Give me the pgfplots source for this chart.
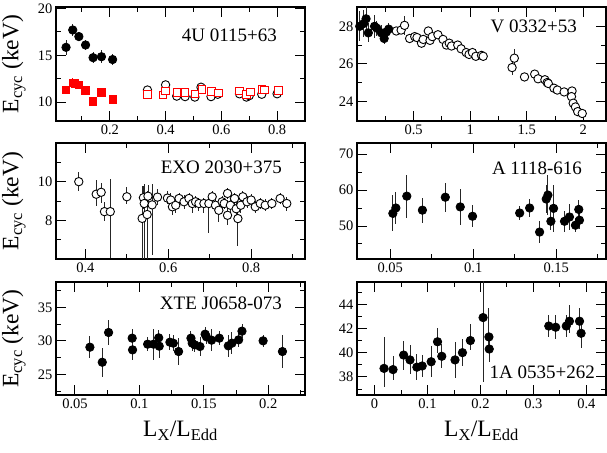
\documentclass[border=0pt]{standalone}
\usepackage{pgfplots}
\pgfplotsset{compat=1.18}
\usepackage{fontspec}
\setmainfont{Liberation Serif}

\tikzset{ttl/.style={anchor=east, inner sep=0pt, font=\fontsize{19}{21}\selectfont}}
\pgfplotsset{
  panel/.style={
    scale only axis, width=249pt, anchor=south west,
    axis line style={line width=1.2pt},
    every tick/.style={black, line width=0.9pt},
    major tick length=10pt, minor tick length=5pt,
    tick label style={font=\fontsize{14.5}{16}\selectfont},
    /pgf/number format/assume math mode=true,
    scaled ticks=false,
    /pgf/number format/fixed, /pgf/number format/precision=3,
    label style={font=\fontsize{23.5}{26}\selectfont},
    ylabel style={at={(axis description cs:-0.169,0.5)}, anchor=center},
    xlabel style={at={(axis description cs:0.5,-0.32)}, anchor=center},
  },
  fc/.style={only marks, mark=*, mark size=4.2pt,
    mark options={draw=black, fill=black, line width=0.8pt},
    error bars/.cd, y dir=both, y explicit, error mark=none,
    error bar style={black!85, line width=0.9pt}},
  oc/.style={only marks, mark=*, mark size=4.2pt,
    mark options={draw=black, fill=white, line width=0.9pt},
    error bars/.cd, y dir=both, y explicit, error mark=none,
    error bar style={black!85, line width=0.9pt}},
  rs/.style={only marks, mark=square*, mark size=3.7pt,
    mark options={draw=red, fill=red, line width=0.8pt},
    error bars/.cd, y dir=both, y explicit, error mark=none,
    error bar style={red, line width=0.9pt}},
  ros/.style={only marks, mark=square*, mark size=3.7pt,
    mark options={draw=red, fill=white, line width=0.9pt},
    error bars/.cd, y dir=both, y explicit, error mark=none,
    error bar style={red, line width=0.9pt}},
}

\begin{document}
\begin{tikzpicture}
\useasboundingbox (0pt,0pt) rectangle (607pt,452pt);

% ---------- 4U 0115+63 ----------
\begin{axis}[panel, at={(56pt,331pt)}, height=114pt,
  xmin=0.007, xmax=0.9, ymin=8, ymax=20.15,
  xtick={0.2,0.4,0.6,0.8}, minor xtick={0.1,0.3,0.5,0.7,0.9},
  ytick={10,15,20}, minor ytick={12.5,17.5},
  ylabel={E\textsubscript{cyc} (keV)}]
\addplot[fc] table[x=x,y=y,y error=e]{
x y e
0.043 15.85 0.8
0.067 17.7 0.6
0.089 17.0 0.5
0.113 16.1 0.5
0.140 14.75 0.6
0.170 14.85 0.7
0.210 14.55 0.6
};
\addplot[rs] table[x=x,y=y,y error=e]{
x y e
0.043 11.3 0.3
0.067 12.05 0.5
0.075 12.0 0.4
0.089 11.85 0.4
0.113 11.25 0.4
0.140 10.1 0.2
0.170 11.05 0.3
0.210 10.3 0.2
};
\addplot[oc] table[x=x,y=y,y error=e]{
x y e
0.335 11.3 0.2
0.40 11.85 0.2
0.44 10.65 0.2
0.47 10.6 0.2
0.505 10.55 0.2
0.527 11.6 0.2
0.563 10.6 0.2
0.587 10.85 0.2
0.665 10.9 0.2
0.69 10.55 0.2
0.70 10.7 0.2
0.745 10.85 0.2
0.80 10.9 0.2
};
\addplot[ros] table[x=x,y=y,y error=e]{
x y e
0.335 10.85 0.2
0.39 10.8 0.2
0.40 11.2 0.2
0.44 11.05 0.2
0.47 11.05 0.2
0.505 10.9 0.2
0.53 11.35 0.2
0.565 11.15 0.2
0.59 11.0 0.2
0.665 11.2 0.2
0.69 10.85 0.2
0.705 11.1 0.2
0.745 11.35 0.2
0.755 11.3 0.2
0.805 11.25 0.2
};
\node[ttl] at (rel axis cs:0.888,0.754) {4U 0115+63};
\end{axis}

% ---------- V 0332+53 ----------
\begin{axis}[panel, at={(357pt,331pt)}, height=114pt,
  xmin=0, xmax=2.2, ymin=22.95, ymax=29.03,
  xtick={0.5,1,1.5,2}, minor xtick={0.25,0.75,1.25,1.75},
  ytick={24,26,28}, minor ytick={25,27}]
\addplot[oc] table[x=x,y=y,y error=e]{
x y e
0.347 27.75 0.2
0.39 27.8 0.2
0.42 28.05 0.5
0.465 27.35 0.2
0.51 27.45 0.2
0.53 27.4 0.15
0.57 27.1 0.2
0.585 27.3 0.15
0.63 27.75 0.2
0.645 27.25 0.2
0.665 27.45 0.15
0.715 27.55 0.15
0.76 27.3 0.15
0.79 27.0 0.15
0.815 27.1 0.15
0.835 26.95 0.15
0.89 27.0 0.15
0.92 26.8 0.15
0.965 26.6 0.15
0.99 26.5 0.15
1.02 26.6 0.15
1.05 26.4 0.15
1.10 26.45 0.15
1.115 26.4 0.15
1.37 25.8 0.4
1.39 26.3 0.5
1.48 25.3 0.1
1.57 25.45 0.1
1.60 25.2 0.1
1.66 25.15 0.1
1.68 25.0 0.1
1.69 24.95 0.1
1.74 24.7 0.1
1.77 24.6 0.1
1.83 24.5 0.1
1.90 24.55 0.15
1.895 24.25 0.1
1.91 23.9 0.1
1.93 23.7 0.1
1.95 23.45 0.1
1.99 23.35 0.1
};
\addplot[fc] table[x=x,y=y,y error=e]{
x y e
0.024 28.0 0.8
0.06 28.15 0.7
0.08 28.4 0.7
0.10 27.65 0.5
0.155 28.0 0.6
0.175 27.9 0.4
0.215 27.65 0.4
0.24 27.35 0.3
0.26 27.7 0.3
0.28 27.85 0.3
};
\node[ttl] at (rel axis cs:0.884,0.833) {V 0332+53};
\end{axis}

% ---------- EXO 2030+375 ----------
\begin{axis}[panel, at={(56pt,193pt)}, height=116pt,
  xmin=0.329, xmax=0.93, ymin=6, ymax=12,
  xtick={0.4,0.6,0.8}, minor xtick={0.5,0.7,0.9},
  ytick={8,10}, minor ytick={7,9,11},
  ylabel={E\textsubscript{cyc} (keV)}]
\addplot[oc] table[x=x,y=y,y error plus=ep,y error minus=em]{
x y ep em
0.384 10.0 0.5 0.5
0.426 9.35 0.75 0.6
0.438 9.45 0.5 0.55
0.446 8.45 0.5 0.5
0.46 8.45 1.7 2.4
0.50 9.22 0.5 0.4
0.537 8.1 1.7 2.1
0.54 9.17 0.6 0.6
0.542 8.87 1.0 2.9
0.549 8.3 1.2 2.3
0.551 9.25 0.6 0.5
0.561 8.8 1.1 2.6
0.574 9.2 0.4 0.4
0.598 9.15 0.35 0.3
0.606 9.05 0.35 0.35
0.61 8.7 0.4 0.4
0.618 8.78 0.4 0.4
0.626 9.13 0.3 0.3
0.638 8.96 0.35 0.35
0.65 9.13 0.3 0.3
0.658 8.87 0.4 0.5
0.666 8.96 0.3 0.3
0.674 8.87 0.3 0.4
0.686 8.87 0.3 0.5
0.698 8.87 0.4 1.5
0.706 9.22 0.3 0.3
0.714 8.78 0.35 0.4
0.722 8.52 0.4 0.6
0.73 8.96 0.3 0.4
0.735 8.87 0.3 0.3
0.743 9.39 0.3 0.3
0.743 8.26 0.5 0.5
0.75 8.78 0.4 0.5
0.76 9.13 0.3 0.4
0.764 8.6 0.4 0.5
0.768 8.09 0.5 1.4
0.775 8.78 0.4 0.4
0.78 9.22 0.3 0.3
0.79 8.96 0.3 0.3
0.80 9.05 0.3 0.3
0.81 8.7 0.3 0.3
0.822 8.87 0.3 0.3
0.834 8.78 0.3 0.3
0.85 8.87 0.3 0.3
0.87 9.13 0.3 0.3
0.886 8.87 0.35 0.4
};
\node[ttl] at (rel axis cs:0.908,0.793) {EXO 2030+375};
\end{axis}

% ---------- A 1118-616 ----------
\begin{axis}[panel, at={(357pt,193pt)}, height=116pt,
  xmin=0.03, xmax=0.18, ymin=40.8, ymax=73.1,
  xtick={0.05,0.1,0.15}, minor xtick={0.075,0.125,0.175},
  ytick={50,60,70}, minor ytick={45,55,65}]
\addplot[fc] table[x=x,y=y,y error=e]{
x y e
0.0516 53.5 5.0
0.0534 55.0 4.5
0.060 58.3 6.0
0.0694 54.4 3.5
0.0832 58.0 4.0
0.0922 55.3 5.0
0.0996 52.7 3.0
0.128 53.6 2.0
0.134 55.0 2.5
0.140 48.3 3.0
0.144 57.5 4.0
0.145 58.6 5.5
0.1468 51.3 2.5
0.1484 54.9 6.5
0.155 51.3 3.0
0.158 52.5 3.5
0.1616 50.2 2.0
0.1636 54.6 2.5
0.164 51.6 2.5
};
\node[ttl] at (rel axis cs:0.904,0.784) {A 1118-616};
\end{axis}

% ---------- XTE J0658-073 ----------
\begin{axis}[panel, at={(56pt,57pt)}, height=113pt,
  xmin=0.0353, xmax=0.2285, ymin=21.9, ymax=38.8,
  xtick={0.05,0.1,0.15,0.2}, minor xtick={0.075,0.125,0.175,0.225},
  ytick={25,30,35}, minor ytick={22.5,27.5,32.5,37.5},
  ylabel={E\textsubscript{cyc} (keV)},
  xlabel={L\textsubscript{X}/L\textsubscript{Edd}}]
\addplot[fc] table[x=x,y=y,y error=e]{
x y e
0.0616 29.05 1.6
0.0712 26.8 2.2
0.0761 31.25 1.8
0.0944 30.4 1.4
0.0947 28.65 1.5
0.1064 29.5 1.0
0.111 29.5 2.3
0.115 30.45 1.1
0.1154 29.2 1.8
0.1237 29.8 1.2
0.1263 29.65 1.2
0.1304 28.4 2.0
0.14 30.4 1.0
0.141 29.65 1.2
0.143 29.4 1.0
0.147 29.15 1.4
0.151 31.0 1.0
0.152 30.6 1.0
0.156 30.1 1.6
0.162 30.4 1.0
0.169 29.25 1.6
0.1718 29.65 1.6
0.177 30.15 1.0
0.1796 31.45 1.0
0.196 30.0 0.9
0.211 28.4 2.4
};
\node[ttl] at (rel axis cs:0.908,0.814) {XTE J0658-073};
\end{axis}

% ---------- 1A 0535+262 ----------
\begin{axis}[panel, at={(357pt,57pt)}, height=113pt,
  xmin=-0.033, xmax=0.437, ymin=36.5, ymax=45.84,
  xtick={0,0.1,0.2,0.3,0.4}, minor xtick={0.05,0.15,0.25,0.35},
  ytick={38,40,42,44}, minor ytick={37,39,41,43,45},
  xlabel={L\textsubscript{X}/L\textsubscript{Edd}}]
\addplot[fc] table[x=x,y=y,y error plus=ep,y error minus=em]{
x y ep em
0.018 38.7 2.6 1.5
0.035 38.6 1.1 0.9
0.055 39.8 1.2 1.2
0.067 39.4 1.2 1.2
0.08 38.8 1.1 1.1
0.09 38.9 0.9 0.9
0.107 39.25 1.3 1.3
0.119 40.9 1.1 0.9
0.127 39.7 1.0 1.0
0.152 39.4 1.5 1.5
0.166 40.0 1.1 1.1
0.181 41.0 1.4 0.8
0.205 42.9 3.0 5.3
0.216 41.3 2.4 1.2
0.2166 40.3 1.1 1.1
0.329 42.2 0.9 0.9
0.342 42.1 1.0 1.0
0.362 42.2 0.9 0.9
0.368 42.6 1.3 1.0
0.387 42.6 1.1 1.0
0.39 41.6 1.0 1.2
};
\node[ttl] at (rel axis cs:0.956,0.204) {1A 0535+262};
\end{axis}
\end{tikzpicture}
\end{document}
